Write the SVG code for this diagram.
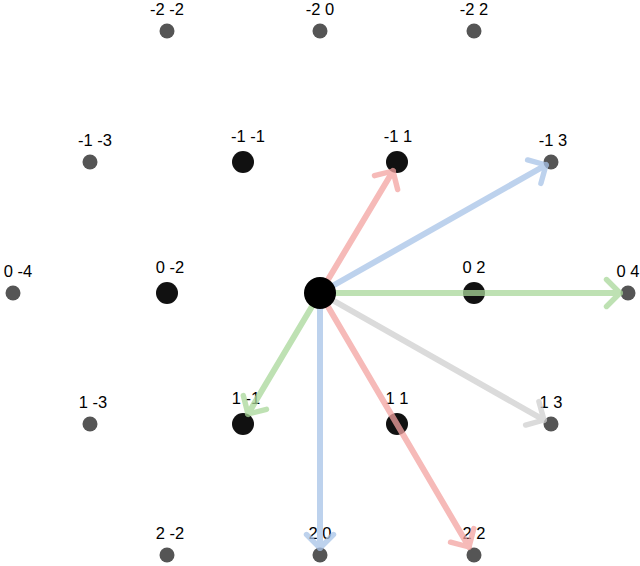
<svg xmlns="http://www.w3.org/2000/svg" width="640" height="566" viewBox="0 0 640 566">
<style>
.s{fill:#555}.b{fill:#111}
text{font-family:"Liberation Sans",Arial,sans-serif;font-size:16.5px;text-anchor:middle;fill:#000}
.a{fill:none;stroke-width:6;stroke-linecap:round;stroke-linejoin:round;opacity:0.75}
.r{stroke:#f4a3a1}.u{stroke:#a8c3e8}.g{stroke:#a9d89a}.y{stroke:#cfcfcf}
</style>
<defs>
<marker id="h" viewBox="-4 -4 8 8" markerWidth="6" markerHeight="6" refX="0" refY="0" orient="auto" markerUnits="strokeWidth"><path d="M-3,-3 L0,0 L-3,3" fill="none" stroke="context-stroke" stroke-width="1.2" stroke-linecap="round" stroke-linejoin="round"/></marker>
</defs>
<g id="n-2-2"><circle class="s" cx="167" cy="31" r="7.5"/><text x="167" y="15">-2 -2</text></g>
<g id="n-20"><circle class="s" cx="320" cy="31" r="7.5"/><text x="320" y="15">-2 0</text></g>
<g id="n-22"><circle class="s" cx="474" cy="31" r="7.5"/><text x="474" y="15">-2 2</text></g>
<g id="n-1-3"><circle class="s" cx="90" cy="162" r="7.5"/><text x="95" y="146">-1 -3</text></g>
<g id="n-1-1"><circle class="b" cx="243" cy="162" r="11"/><text x="248" y="142">-1 -1</text></g>
<g id="n-11"><circle class="b" cx="397" cy="162" r="11"/><text x="398" y="142">-1 1</text></g>
<g id="n-13"><circle class="s" cx="551" cy="162" r="7.5"/><text x="553" y="146">-1 3</text></g>
<g id="n0-4"><circle class="s" cx="13" cy="293" r="7.5"/><text x="18" y="277">0 -4</text></g>
<g id="n0-2"><circle class="b" cx="167" cy="293" r="11"/><text x="170" y="273">0 -2</text></g>
<g id="n02"><circle class="b" cx="474" cy="293" r="11"/><text x="474" y="273">0 2</text></g>
<g id="n04"><circle class="s" cx="628" cy="293" r="7.5"/><text x="628" y="277">0 4</text></g>
<g id="n1-3"><circle class="s" cx="90" cy="424" r="7.5"/><text x="93" y="408">1 -3</text></g>
<g id="n1-1"><circle class="b" cx="243" cy="424" r="11"/><text x="246" y="404">1 -1</text></g>
<g id="n11"><circle class="b" cx="397" cy="424" r="11"/><text x="397" y="404">1 1</text></g>
<g id="n13"><circle class="s" cx="551" cy="424" r="7.5"/><text x="551" y="408">1 3</text></g>
<g id="n2-2"><circle class="s" cx="167" cy="555" r="7.5"/><text x="170" y="539">2 -2</text></g>
<g id="n20"><circle class="s" cx="320" cy="555" r="7.5"/><text x="320" y="539">2 0</text></g>
<g id="n22"><circle class="s" cx="474" cy="555" r="7.5"/><text x="474" y="539">2 2</text></g>
<g id="connectors">
<line class="a r" x1="320" y1="293" x2="393" y2="171" marker-end="url(#h)"/>
<line class="a u" x1="320" y1="293" x2="546" y2="165" marker-end="url(#h)"/>
<line class="a g" x1="320" y1="293" x2="620" y2="293" marker-end="url(#h)"/>
<line class="a y" x1="320" y1="293" x2="544" y2="420" marker-end="url(#h)"/>
<line class="a r" x1="320" y1="293" x2="469" y2="547" marker-end="url(#h)"/>
<line class="a u" x1="320" y1="293" x2="320" y2="548" marker-end="url(#h)"/>
<line class="a g" x1="320" y1="293" x2="248" y2="414" marker-end="url(#h)"/>
</g>
<g id="n00"><circle fill="#000" cx="320" cy="293" r="16"/></g>
</svg>
